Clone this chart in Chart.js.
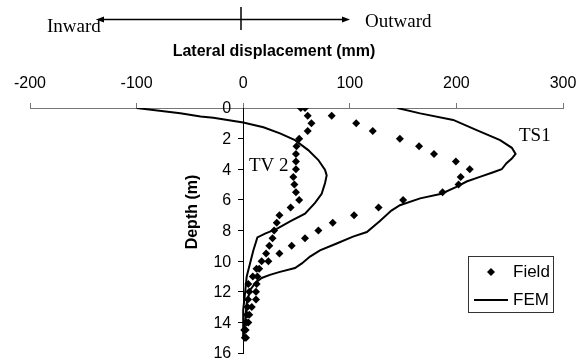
<!DOCTYPE html>
<html>
<head>
<meta charset="utf-8">
<script src="https://cdn.jsdelivr.net/npm/chart.js@4.4.1/dist/chart.umd.min.js"></script>
<style>
  html, body { margin: 0; padding: 0; background: #fff; }
</style>
</head>
<body>
<canvas id="chart" width="587" height="362"></canvas>
<script>
// Field readings, inclinometer TV 2 (depth in m, displacement in mm)
const fieldTV2Depth = [0, 0, 0.5, 1, 1.5, 2, 2.5, 3, 3.5, 4, 4.5, 5, 5.5, 6, 6.5, 7, 7.5, 8, 8.5, 9, 9.5, 10, 10.5, 11, 11.5, 12, 12.5, 13, 13.5, 14, 14.5, 15];
const fieldTV2Disp  = [54, 58, 60.5, 64, 60.5, 52.5, 50, 49.5, 49.5, 49.5, 47, 48, 49.5, 52.5, 44.5, 34, 31.5, 29, 27.5, 24.5, 21.5, 17.3, 12.5, 9, 4.8, 5.7, 4.5, 4, 3.5, 3, 1, 1.5];

// Field readings, inclinometer TS1
const fieldTS1Depth = [0.5, 1, 1.5, 2, 2.5, 3, 3.5, 4, 4.5, 5, 5.5, 6, 6.5, 7, 7.5, 8, 8.5, 9, 9.5, 10, 10.5, 11, 11.5, 12, 12.5, 13, 13.5, 14, 14.5, 15];
const fieldTS1Disp  = [83, 106, 121.5, 147, 165, 179, 199.5, 212.5, 204, 202, 187, 150, 127, 104, 84, 70.5, 58, 45.5, 34, 23.6, 15, 13.3, 12.6, 12, 12, 8, 5.7, 4.8, 2.3, 2.6];

// FEM curves
const femTV2Depth = [0, 0.35, 0.55, 0.63, 0.95, 1.26, 1.66, 2.1, 2.75, 3.4, 4.05, 4.4, 4.9, 5.6, 6.2, 6.9, 7.4, 7.9, 8.2, 8.45, 9.3, 10.15, 11, 12.1, 13.2, 15];
const femTV2Disp  = [-100, -59, -40, -28, 0, 19, 34.5, 48.6, 61, 70.5, 76.8, 78.3, 76.8, 73.6, 67.4, 58, 44, 31.5, 20.5, 13.3, 9.5, 6.4, 3.3, 1.7, 0, 0];

const femTS1Depth = [0, 0.35, 0.78, 1.44, 2.1, 2.6, 3.0, 3.3, 3.6, 4.0, 4.2, 4.5, 4.8, 5.15, 5.6, 5.9, 6.35, 6.7, 7.4, 8.1, 8.4, 8.85, 9.3, 9.7, 10.15, 10.45, 10.7, 10.9, 11.1, 11.45, 11.9, 12.75, 14.5, 15];
const femTS1Disp  = [144.6, 166, 197, 219, 241, 252, 255.5, 252, 247, 242.5, 234.6, 222, 209.6, 200, 186, 166, 147, 139, 128, 116, 103, 87.7, 72, 62.7, 55, 48.6, 34.5, 25, 17.3, 11, 6.4, 3.3, 1, 0];

function toPoints(xs, ys) {
    return xs.map((x, i) => ({ x: x, y: ys[i] }));
}

const sans = "'Liberation Sans', Arial, sans-serif";
const tickFont = { family: sans, size: 16 };

// arrow, side labels, axis titles, depth tick labels, legend
const extras = {
    id: "extras",
    afterDraw(chart) {
        const ctx = chart.ctx;
        const xs = chart.scales.x;
        const ys = chart.scales.y;
        ctx.save();
        ctx.strokeStyle = "#000";
        ctx.fillStyle = "#000";
        ctx.lineWidth = 1.5;
        ctx.beginPath();
        ctx.moveTo(100, 19.5); ctx.lineTo(345, 19.5);
        ctx.moveTo(241, 7); ctx.lineTo(241, 30);
        ctx.stroke();
        ctx.beginPath();
        ctx.moveTo(96, 19.5); ctx.lineTo(104, 16.5); ctx.lineTo(104, 22.5); ctx.closePath();
        ctx.moveTo(350, 19.5); ctx.lineTo(342, 16.5); ctx.lineTo(342, 22.5); ctx.closePath();
        ctx.fill();

        ctx.font = "19px 'Liberation Serif', 'Times New Roman', serif";
        ctx.textBaseline = "alphabetic";
        ctx.textAlign = "left";
        ctx.fillText("Inward", 47, 32);
        ctx.fillText("Outward", 365, 27);
        ctx.fillText("TV 2", 249, 171);
        ctx.fillText("TS1", 519, 141);

        // x axis title
        ctx.font = "bold 16px " + sans;
        ctx.textAlign = "center";
        ctx.textBaseline = "middle";
        ctx.fillText("Lateral displacement (mm)", 274, 52);

        // depth tick labels, left of the axis at x = 0
        const axisX = xs.getPixelForValue(0);
        ctx.font = "16px " + sans;
        ctx.textAlign = "right";
        ys.ticks.forEach(t => {
            ctx.fillText(String(t.value), axisX - 12, ys.getPixelForValue(t.value) + 1);
        });

        ctx.font = "bold 16px " + sans;
        ctx.translate(193, 212);
        ctx.rotate(-Math.PI / 2);
        ctx.textAlign = "center";
        ctx.fillText("Depth (m)", 0, 0);
        ctx.restore();

        // legend
        ctx.save();
        ctx.strokeStyle = "#333";
        ctx.lineWidth = 1;
        ctx.fillStyle = "#fff";
        ctx.fillRect(468.5, 256.5, 85, 56);
        ctx.strokeRect(468.5, 256.5, 85, 56);
        ctx.fillStyle = "#000";
        ctx.beginPath();
        ctx.moveTo(491, 268); ctx.lineTo(495, 272); ctx.lineTo(491, 276); ctx.lineTo(487, 272); ctx.closePath();
        ctx.fill();
        ctx.lineWidth = 2;
        ctx.strokeStyle = "#000";
        ctx.beginPath();
        ctx.moveTo(474, 300); ctx.lineTo(508, 300);
        ctx.stroke();
        ctx.font = "17px " + sans;
        ctx.textBaseline = "middle";
        ctx.fillText("Field", 513, 272);
        ctx.fillText("FEM", 513, 300);
        ctx.restore();
    }
};

const fieldStyle = {
    type: "scatter",
    label: "Field",
    pointStyle: "rectRot",
    pointRadius: 4,
    backgroundColor: "#000",
    borderColor: "#000",
    borderWidth: 0,
    showLine: false
};
const femStyle = {
    type: "scatter",
    label: "FEM",
    showLine: true,
    borderColor: "#000",
    borderWidth: 2,
    pointRadius: 0,
    fill: false,
    tension: 0
};

new Chart(document.getElementById("chart"), {
    type: "scatter",
    data: {
        datasets: [
            Object.assign({}, femStyle, { data: toPoints(femTV2Disp, femTV2Depth) }),
            Object.assign({}, femStyle, { data: toPoints(femTS1Disp, femTS1Depth) }),
            Object.assign({}, fieldStyle, { data: toPoints(fieldTV2Disp, fieldTV2Depth) }),
            Object.assign({}, fieldStyle, { data: toPoints(fieldTS1Disp, fieldTS1Depth) })
        ]
    },
    options: {
        responsive: false,
        animation: false,
        layout: { padding: { left: 30, right: 24, top: 0, bottom: 9 } },
        plugins: { legend: { display: false }, tooltip: { enabled: false } },
        scales: {
            x: {
                type: "linear",
                position: "top",
                min: -200,
                max: 300,
                ticks: { stepSize: 100, color: "#000", font: tickFont, padding: 10, maxRotation: 0 },
                grid: { drawOnChartArea: false, drawTicks: true, tickLength: 5, color: "#777" },
                border: { color: "#777", width: 1 },
                afterFit(scale) { scale.height = 108; }
            },
            y: {
                type: "linear",
                position: { x: 0 },
                reverse: true,
                min: 0,
                max: 16,
                ticks: { stepSize: 2, display: false },
                grid: { drawOnChartArea: false, drawTicks: true, tickLength: 5, color: "#000" },
                border: { color: "#000", width: 1 },
                afterFit(scale) { scale.width = 0; }
            }
        }
    },
    plugins: [extras]
});
</script>
</body>
</html>
